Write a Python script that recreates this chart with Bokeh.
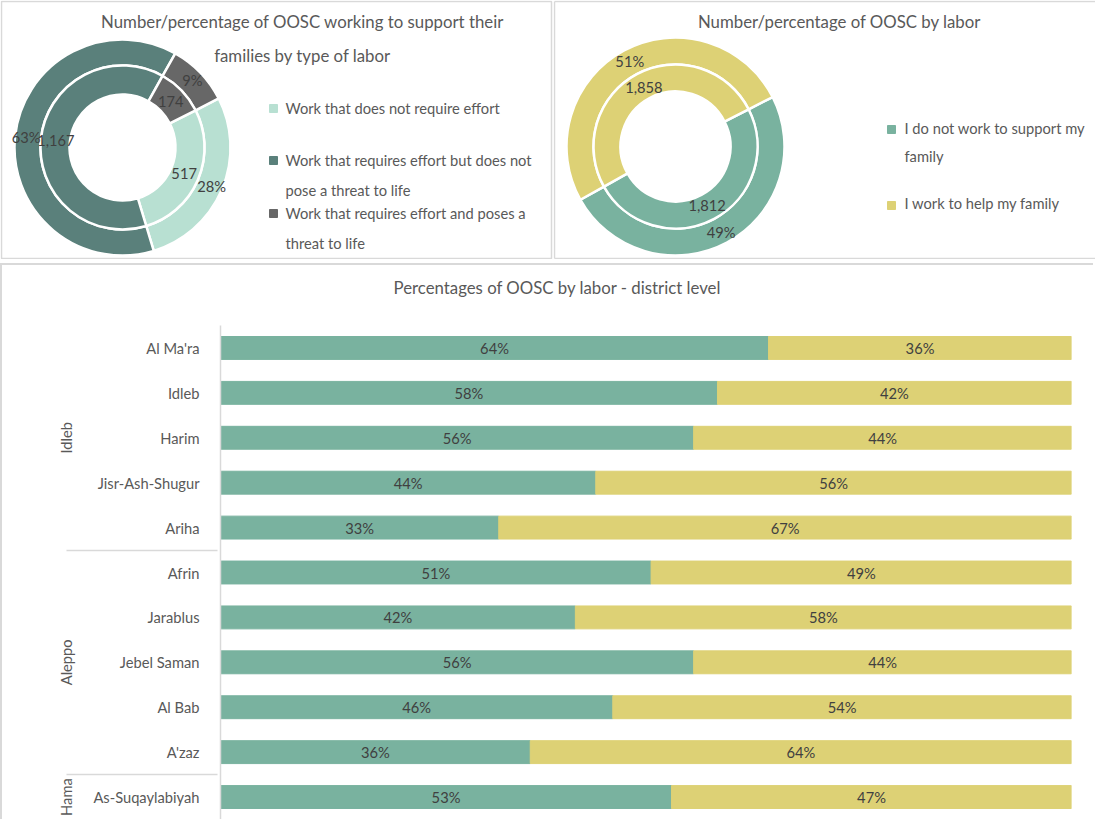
import math
import textwrap
from bokeh.plotting import figure
from bokeh.models import Range1d, FactorRange, ColumnDataSource
from bokeh.layouts import column, row
from bokeh.embed import file_html
from bokeh.resources import INLINE
from bokeh.core.properties import value

FONT = "Lato"
GRAY = "#595959"
DARK = "#404040"
BORDER = "#d9d9d9"
FS = "14.7px"
FS_TITLE = "16.8px"

# ---------------- data ----------------
title1 = "Number/percentage of OOSC working to support their families by type of labor"
labor_types = [
    "Work that does not require effort",
    "Work that requires effort but does not pose a threat to life",
    "Work that requires effort and poses a threat to life",
]
labor_counts = [517, 1167, 174]
labor_colors = ["#b8e0d2", "#5a807b", "#676767"]

title2 = "Number/percentage of OOSC by labor"
support_types = ["I do not work to support my family", "I work to help my family"]
support_counts = [1812, 1858]
support_colors = ["#79b29f", "#ddd175"]

title3 = "Percentages of OOSC by labor - district level"
governorates = ["Idleb"] * 5 + ["Aleppo"] * 5 + ["Hama"]
districts = ["Al Ma'ra", "Idleb", "Harim", "Jisr-Ash-Shugur", "Ariha",
             "Afrin", "Jarablus", "Jebel Saman", "Al Bab", "A'zaz",
             "As-Suqaylabiyah"]
not_work_pct = [64.4, 58.4, 55.6, 44.1, 32.7, 50.6, 41.7, 55.6, 46.1, 36.4, 53.0]
work_pct = [35.6, 41.6, 44.4, 55.9, 67.3, 49.4, 58.3, 44.4, 53.9, 63.6, 47.0]

START_CW = 63  # first slice angle, degrees clockwise from 12 o'clock


def txt(p, xs, ys, texts, size=FS, color=GRAY, align="left", baseline="middle"):
    p.text(x=xs, y=ys, text=texts, text_font=value(FONT), text_font_size=size,
           text_color=color, text_align=align, text_baseline=baseline)


def donut(p, cx, cy, counts, colors, rings, label_r, outer_labels, inner_labels):
    total = sum(counts)
    cum = [0.0]
    for c in counts:
        cum.append(cum[-1] + c / total)
    th0 = [START_CW + 360 * c for c in cum[:-1]]
    th1 = [START_CW + 360 * c for c in cum[1:]]
    src = ColumnDataSource(dict(
        start=[math.radians(90 - t) for t in th0],
        end=[math.radians(90 - t) for t in th1],
        color=colors))
    for ri, ro in rings:
        p.annular_wedge(x=cx, y=cy, inner_radius=ri, outer_radius=ro,
                        inner_radius_units="screen", outer_radius_units="screen",
                        start_angle="start", end_angle="end", direction="clock",
                        fill_color="color", line_color="white", line_width=2.5,
                        source=src)
    mids = [(a + b) / 2 for a, b in zip(th0, th1)]
    for r, labels in zip(label_r, (outer_labels, inner_labels)):
        xs = [cx + r * math.sin(math.radians(m)) for m in mids]
        ys = [cy - r * math.cos(math.radians(m)) for m in mids]
        txt(p, xs, ys, labels, color=DARK, align="center")


def pct_labels(counts):
    t = sum(counts)
    return [f"{round(100 * c / t)}%" for c in counts]


def panel_fig(width, height, xr, yr, **kw):
    return figure(width=width, height=height, x_range=Range1d(*xr), y_range=Range1d(*yr),
                  x_axis_type=None, y_axis_type=None, toolbar_location=None,
                  output_backend="svg", min_border=0, outline_line_color=None, **kw)


# ---------------- chart 1 ----------------
p1 = panel_fig(553, 259, (8, 561), (267, 8))
p1.quad(left=9, right=559, top=9, bottom=266, fill_color=None,
        line_color=BORDER, line_width=1.5)
t1 = textwrap.wrap(title1, 50)
txt(p1, [310] * len(t1), [29 + 34 * i for i in range(len(t1))], t1, size=FS_TITLE, align="center")
donut(p1, 130, 155, labor_counts, labor_colors, [(82, 108), (53, 82)], (97, 67),
      pct_labels(labor_counts), [f"{c:,}" for c in labor_counts])
p1.scatter(x=[281] * 3, y=[116, 168, 221], marker="square", size=8, color=labor_colors)
for lbl, y0 in zip(labor_types, [115, 167, 220]):
    lines = textwrap.wrap(lbl, 38)
    txt(p1, [293] * len(lines), [y0 + 30 * i for i in range(len(lines))], lines)

# ---------------- chart 2 ----------------
p2 = panel_fig(542, 259, (561, 1103), (267, 8))
p2.multi_line(xs=[[562, 562], [562, 1103], [562, 1103]], ys=[[9, 266], [9, 9], [266, 266]],
              line_color=BORDER, line_width=1.5)
txt(p2, [847], [29], [title2], size=FS_TITLE, align="center")
donut(p2, 683, 154, support_counts, support_colors, [(82, 109), (55, 82)], (97, 67),
      pct_labels(support_counts), [f"{c:,}" for c in support_counts])
p2.scatter(x=[899] * 2, y=[137, 213], marker="square", size=8, color=support_colors)
for lbl, y0 in zip(support_types, [135, 210]):
    lines = textwrap.wrap(lbl, 27)
    txt(p2, [912] * len(lines), [y0 + 28 * i for i in range(len(lines))], lines)

# ---------------- chart 3: title strip ----------------
p3t = panel_fig(1093, 62, (10, 1103), (335, 273),
                styles={"border-left": f"2px solid {BORDER}", "border-top": f"2px solid {BORDER}"})
txt(p3t, [565], [295], [title3], size=FS_TITLE, align="center")
p3t.line(x=[42, 228], y=[334.2, 334.2], line_color=BORDER, line_width=1.5)

# ---------------- chart 3: bars ----------------
factors = [(g, d) for g, d in zip(governorates, districts)]
src3 = ColumnDataSource(dict(
    y=factors,
    nw=[v / 100 for v in not_work_pct],
    nw_mid=[v / 200 for v in not_work_pct],
    w_mid=[(a + b / 2) / 100 for a, b in zip(not_work_pct, work_pct)],
    end=[(a + b) / 100 for a, b in zip(not_work_pct, work_pct)],
    nw_lbl=[f"{round(v)}%" for v in not_work_pct],
    w_lbl=[f"{round(v)}%" for v in work_pct],
))
p3 = figure(width=1093, height=494, x_range=Range1d(0, 1),
            y_range=FactorRange(*reversed(factors), group_padding=0, factor_padding=0,
                                subgroup_padding=0, range_padding=0),
            x_axis_type=None, toolbar_location=None, output_backend="svg",
            min_border_left=218, min_border_right=24, min_border_top=0,
            min_border_bottom=0, outline_line_color=None,
            styles={"border-left": f"2px solid {BORDER}"})
p3.ygrid.grid_line_color = None
p3.hbar(y="y", left=0, right="nw", height=0.51, color=support_colors[0], source=src3)
p3.hbar(y="y", left="nw", right="end", height=0.51, color=support_colors[1], source=src3)
p3.text(x="nw_mid", y="y", text="nw_lbl", source=src3, text_font=value(FONT),
        text_font_size=FS, text_color=DARK, text_align="center", text_baseline="middle")
p3.text(x="w_mid", y="y", text="w_lbl", source=src3, text_font=value(FONT),
        text_font_size=FS, text_color=DARK, text_align="center", text_baseline="middle")

ax = p3.yaxis[0]
ax.axis_line_color = BORDER
ax.axis_line_width = 1.5
ax.major_tick_line_color = None
ax.minor_tick_line_color = None
ax.major_label_standoff = 15
ax.major_label_text_font = FONT
ax.major_label_text_font_size = FS
ax.major_label_text_color = GRAY
ax.group_text_font = FONT
ax.group_text_font_size = FS
ax.group_text_font_style = "normal"
ax.group_text_color = GRAY
ax.separator_line_color = BORDER
ax.separator_line_width = 1.5

top = row(p1, p2, spacing=0)
top.styles = {"margin-bottom": "4px"}
layout = column(top, row(p3t, spacing=0), row(p3, spacing=0), spacing=0)
open("out.html", "w").write(file_html(layout, INLINE))
